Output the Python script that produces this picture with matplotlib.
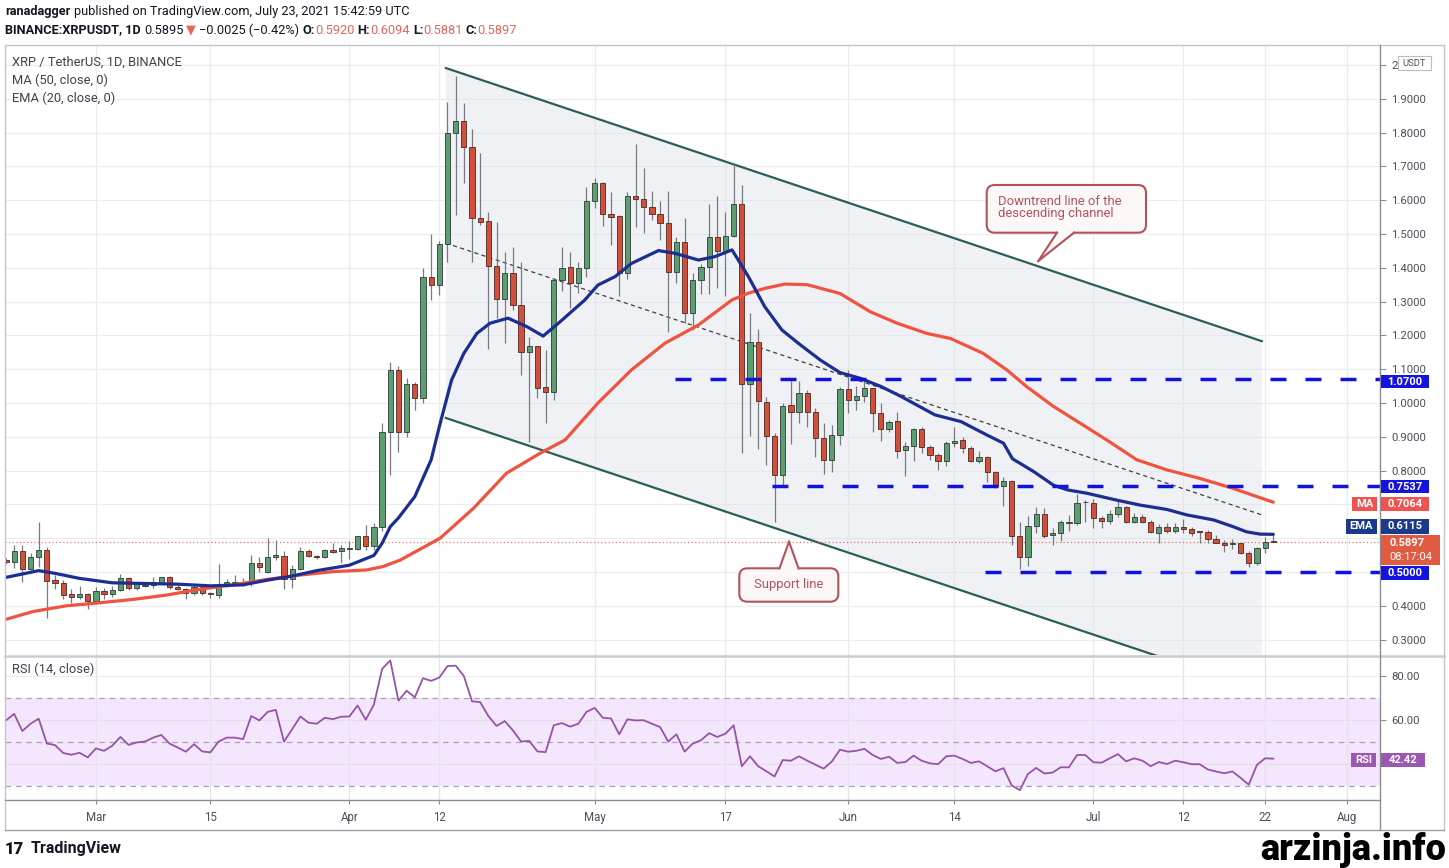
import matplotlib
matplotlib.use("Agg")
import matplotlib.pyplot as plt
from matplotlib.patches import Rectangle, FancyBboxPatch, Polygon
from matplotlib.lines import Line2D
from matplotlib.transforms import IdentityTransform
import datetime as dt
import numpy as np

plt.rcParams['font.family'] = ['Roboto', 'DejaVu Sans']
plt.rcParams['lines.scale_dashes'] = False

# ---------------- data ----------------
START = dt.date(2021, 2, 18)          # first candle

opens = [
0.534, 0.531, 0.563, 0.508, 0.543, 0.565, 0.476, 0.468, 0.434, 0.427,
0.434, 0.414, 0.445, 0.434, 0.447, 0.481, 0.452, 0.460, 0.461, 0.468,
0.484, 0.457, 0.449, 0.437, 0.455, 0.437, 0.432, 0.459, 0.467, 0.471,
0.466, 0.526, 0.501, 0.543, 0.547, 0.478, 0.508, 0.563, 0.547, 0.543,
0.565, 0.563, 0.568, 0.567, 0.606, 0.577, 0.634, 0.915, 1.098, 0.915,
1.056, 1.014, 1.372, 1.349, 1.470, 1.798, 1.835, 1.756, 1.546, 1.539,
1.405, 1.309, 1.384, 1.290, 1.152, 1.169, 1.048, 1.033, 1.364, 1.401,
1.354, 1.398, 1.599, 1.652, 1.559, 1.553, 1.386, 1.613, 1.603, 1.579,
1.559, 1.534, 1.389, 1.477, 1.267, 1.364, 1.401, 1.490, 1.451, 1.494,
1.589, 1.056, 1.179, 1.004, 0.903, 0.787, 0.994, 0.974, 1.031, 0.974,
0.896, 0.831, 0.905, 1.040, 1.009, 1.021, 1.043, 0.970, 0.922, 0.947,
0.861, 0.873, 0.922, 0.869, 0.846, 0.829, 0.881, 0.891, 0.866, 0.829,
0.839, 0.795, 0.754, 0.770, 0.607, 0.545, 0.636, 0.672, 0.610, 0.614,
0.644, 0.644, 0.706, 0.705, 0.659, 0.652, 0.672, 0.693, 0.649, 0.662,
0.649, 0.616, 0.634, 0.622, 0.634, 0.626, 0.620, 0.619, 0.597, 0.587,
0.582, 0.585, 0.555, 0.528, 0.570, 0.592]

highs = [
0.540, 0.580, 0.580, 0.555, 0.649, 0.575, 0.491, 0.476, 0.449, 0.459,
0.437, 0.455, 0.452, 0.459, 0.494, 0.484, 0.471, 0.471, 0.486, 0.486,
0.488, 0.462, 0.452, 0.462, 0.459, 0.441, 0.524, 0.478, 0.491, 0.481,
0.550, 0.545, 0.600, 0.595, 0.563, 0.521, 0.575, 0.567, 0.550, 0.567,
0.587, 0.580, 0.593, 0.607, 0.639, 0.644, 0.940, 1.120, 1.110, 1.074,
1.062, 1.400, 1.500, 1.480, 1.891, 1.967, 1.887, 1.810, 1.740, 1.566,
1.536, 1.448, 1.462, 1.418, 1.196, 1.170, 1.157, 1.370, 1.462, 1.448,
1.418, 1.640, 1.665, 1.655, 1.625, 1.556, 1.625, 1.766, 1.694, 1.628,
1.599, 1.628, 1.490, 1.546, 1.386, 1.410, 1.589, 1.613, 1.566, 1.709,
1.645, 1.265, 1.218, 1.019, 0.910, 0.999, 1.066, 1.066, 1.037, 0.984,
0.942, 0.935, 1.048, 1.098, 1.050, 1.070, 1.045, 0.999, 0.950, 0.974,
0.886, 0.925, 0.930, 0.876, 0.851, 0.889, 0.928, 0.900, 0.873, 0.859,
0.842, 0.800, 0.782, 0.772, 0.649, 0.666, 0.691, 0.688, 0.629, 0.654,
0.669, 0.731, 0.713, 0.715, 0.666, 0.684, 0.715, 0.696, 0.676, 0.672,
0.654, 0.642, 0.646, 0.644, 0.656, 0.634, 0.622, 0.624, 0.610, 0.595,
0.597, 0.587, 0.563, 0.573, 0.603, 0.6094]

lows = [
0.525, 0.511, 0.471, 0.505, 0.516, 0.363, 0.449, 0.421, 0.407, 0.419,
0.390, 0.407, 0.421, 0.425, 0.445, 0.447, 0.447, 0.455, 0.452, 0.466,
0.449, 0.447, 0.421, 0.433, 0.432, 0.422, 0.422, 0.455, 0.460, 0.459,
0.459, 0.501, 0.498, 0.535, 0.449, 0.452, 0.505, 0.545, 0.537, 0.540,
0.555, 0.526, 0.537, 0.565, 0.565, 0.565, 0.620, 0.787, 0.856, 0.900,
0.980, 1.000, 1.305, 1.320, 1.418, 1.556, 1.652, 1.418, 1.527, 1.159,
1.250, 1.177, 1.275, 1.083, 0.886, 1.014, 0.940, 1.009, 1.330, 1.280,
1.325, 1.374, 1.576, 1.524, 1.468, 1.317, 1.366, 1.522, 1.502, 1.541,
1.482, 1.211, 1.356, 1.238, 1.216, 1.323, 1.323, 1.339, 1.317, 1.490,
0.851, 0.901, 0.863, 0.817, 0.649, 0.758, 0.879, 0.942, 0.930, 0.841,
0.790, 0.797, 0.876, 0.971, 0.979, 1.004, 0.915, 0.889, 0.915, 0.836,
0.784, 0.829, 0.851, 0.831, 0.802, 0.814, 0.869, 0.851, 0.824, 0.822,
0.767, 0.748, 0.695, 0.580, 0.508, 0.518, 0.616, 0.600, 0.580, 0.593,
0.620, 0.640, 0.649, 0.629, 0.629, 0.642, 0.664, 0.646, 0.646, 0.646,
0.616, 0.587, 0.616, 0.616, 0.614, 0.607, 0.585, 0.587, 0.587, 0.560,
0.567, 0.553, 0.514, 0.521, 0.557, 0.5881]

closes = [
0.531, 0.563, 0.508, 0.543, 0.565, 0.474, 0.468, 0.433, 0.427, 0.434,
0.414, 0.445, 0.434, 0.447, 0.481, 0.452, 0.466, 0.462, 0.471, 0.484,
0.457, 0.449, 0.437, 0.455, 0.437, 0.434, 0.459, 0.471, 0.471, 0.466,
0.526, 0.516, 0.543, 0.550, 0.478, 0.508, 0.563, 0.547, 0.543, 0.565,
0.560, 0.570, 0.570, 0.606, 0.577, 0.634, 0.915, 1.098, 0.915, 1.056,
1.014, 1.372, 1.349, 1.470, 1.798, 1.835, 1.756, 1.546, 1.536, 1.405,
1.309, 1.384, 1.290, 1.152, 1.169, 1.043, 1.033, 1.364, 1.398, 1.354,
1.398, 1.599, 1.652, 1.559, 1.551, 1.386, 1.613, 1.603, 1.579, 1.559,
1.534, 1.389, 1.477, 1.267, 1.364, 1.401, 1.490, 1.451, 1.494, 1.589,
1.056, 1.179, 1.007, 0.903, 0.787, 0.991, 0.974, 1.031, 0.974, 0.896,
0.831, 0.905, 1.040, 1.009, 1.021, 1.043, 0.970, 0.922, 0.945, 0.859,
0.873, 0.922, 0.869, 0.846, 0.829, 0.881, 0.889, 0.866, 0.829, 0.839,
0.795, 0.754, 0.770, 0.607, 0.545, 0.636, 0.672, 0.607, 0.616, 0.649,
0.649, 0.705, 0.706, 0.659, 0.652, 0.672, 0.693, 0.649, 0.662, 0.649,
0.619, 0.634, 0.622, 0.634, 0.626, 0.616, 0.619, 0.597, 0.587, 0.580,
0.584, 0.555, 0.528, 0.570, 0.590, 0.5897]

rsi = [
59.8, 62.8, 55.0, 58.3, 60.6, 49.3, 48.6, 45.0, 44.2, 45.1,
43.0, 47.1, 46.0, 48.3, 52.3, 48.7, 49.8, 50.2, 52.0, 53.2,
49.3, 47.5, 45.6, 49.0, 45.7, 45.3, 50.2, 52.0, 52.0, 51.3,
61.8, 59.8, 63.7, 64.6, 50.2, 55.8, 61.6, 58.8, 58.3, 61.0,
60.4, 61.5, 61.6, 66.6, 60.1, 67.0, 83.2, 87.1, 68.8, 73.3,
70.3, 79.0, 77.8, 79.3, 84.5, 84.7, 80.0, 68.5, 68.1, 61.8,
57.3, 59.5, 55.3, 50.2, 50.5, 45.7, 45.4, 57.6, 58.6, 57.0,
58.3, 63.7, 65.5, 61.0, 60.7, 53.5, 60.3, 59.8, 59.9, 58.3,
56.8, 50.2, 53.5, 45.6, 49.3, 50.8, 54.0, 52.3, 53.8, 57.6,
39.0, 43.5, 39.0, 36.7, 34.3, 41.8, 41.5, 43.5, 41.5, 39.7,
37.9, 41.1, 46.5, 45.6, 46.0, 46.9, 44.1, 42.3, 43.3, 40.5,
40.9, 43.8, 41.5, 40.3, 39.9, 43.5, 43.8, 42.3, 40.5, 41.2,
39.0, 36.7, 38.1, 30.3, 28.1, 35.5, 38.2, 35.7, 36.1, 38.5,
38.5, 44.1, 44.1, 40.8, 40.6, 42.6, 44.5, 41.2, 42.6, 41.5,
39.0, 40.9, 40.0, 41.5, 40.8, 39.9, 39.9, 37.5, 36.6, 35.8,
36.6, 33.7, 30.6, 39.6, 42.6, 42.42]

# EMA(20) and MA(50) (day offset from START, value)
ema_day = [0, 4, 6, 9, 13, 17, 21, 25, 29, 32, 35, 38, 42, 45, 46, 47, 48, 50,
           52, 53, 54.5, 56, 57.6, 59.2, 61.4, 63.7, 65.7, 67.8, 70.8, 72.4,
           74.5, 76.5, 79.8, 81.8, 84.7, 86.7, 88.8, 90.8, 92.8, 94.9, 97,
           99.6, 102, 104.5, 107, 109.5, 113.6, 116.8, 120, 122, 123.1, 125.7,
           128.1, 129.8, 132.2, 135.4, 138.7, 142, 144.4, 147.7, 150.1, 151.7,
           153.4, 155]
ema_val = [0.484, 0.504, 0.496, 0.481, 0.468, 0.466, 0.464, 0.459, 0.462, 0.476,
           0.488, 0.504, 0.520, 0.549, 0.585, 0.634, 0.660, 0.723, 0.832, 0.930,
           1.068, 1.147, 1.206, 1.236, 1.251, 1.226, 1.198, 1.241, 1.305, 1.349,
           1.374, 1.413, 1.451, 1.443, 1.423, 1.433, 1.453, 1.374, 1.285, 1.216,
           1.175, 1.127, 1.090, 1.073, 1.049, 1.019, 0.965, 0.945, 0.905, 0.881,
           0.835, 0.797, 0.757, 0.743, 0.733, 0.715, 0.698, 0.685, 0.669, 0.654,
           0.634, 0.619, 0.612, 0.6115]
ma_day = [0, 3.3, 7.4, 11.5, 15.6, 19.7, 23.7, 27.8, 31.9, 36, 40, 44.1, 46.1,
          48.2, 53.1, 57.2, 61.2, 65.3, 68.4, 72.4, 76.5, 80.6, 84.7, 88.8,
          90.8, 92.8, 95.3, 98, 102, 105.7, 109, 112.6, 115.5, 119.5, 122.4,
          124.8, 128.1, 131.4, 134.6, 138.3, 142, 146, 150, 155]
ma_val = [0.360, 0.383, 0.400, 0.409, 0.419, 0.432, 0.449, 0.462, 0.478, 0.491,
          0.501, 0.506, 0.516, 0.535, 0.600, 0.689, 0.792, 0.851, 0.891, 1.000,
          1.098, 1.177, 1.231, 1.305, 1.325, 1.339, 1.352, 1.350, 1.324, 1.270,
          1.236, 1.206, 1.191, 1.147, 1.098, 1.049, 0.990, 0.940, 0.891, 0.832,
          0.802, 0.777, 0.748, 0.7064]

# descending channel (day offset, price) at its two ends
chan_day = [53.8, 153.6]
chan_upper = [1.991, 1.183]
chan_lower = [0.9556, 0.148]
chan_mid = [1.473, 0.669]

# horizontal levels and the day they start
levels = [1.0700, 0.7537, 0.5000]
level_from = [81.8, 93.7, 119.7]
last_price = 0.5897

tick_dates = ['2021-03-01', '2021-03-15', '2021-04-01', '2021-04-12', '2021-05-01',
              '2021-05-17', '2021-06-01', '2021-06-14', '2021-07-01', '2021-07-12',
              '2021-07-22', '2021-08-01']
tick_labels = ['Mar', '15', 'Apr', '12', 'May', '17', 'Jun', '14', 'Jul', '12', '22', 'Aug']

price_ticks = [0.3, 0.4, 0.5, 0.6, 0.7, 0.8, 0.9, 1.0, 1.1, 1.2, 1.3, 1.4, 1.5,
               1.6, 1.7, 1.8, 1.9, 2.0]
# tick labels hidden behind value boxes in the reference
hidden_ticks = [0.5, 0.6, 0.7]

# ---------------- figure ----------------
W, H = 1449, 868
fig = plt.figure(figsize=(W / 100, H / 100), dpi=100)
fig.patch.set_facecolor('white')
ID = IdentityTransform()

def fx(x): return x / W
def fy(y): return 1 - y / H

L, R = 5, 1380
MAIN_T, MAIN_B = 45, 655
RSI_T, RSI_B = 657, 800
XMIN, XMAX = -0.12, 168.05

days = np.arange(len(closes))
tick_days = [(dt.date.fromisoformat(s) - START).days for s in tick_dates]

GRID = '#ebebf0'
TXT = '#4b4f59'

ax = fig.add_axes([fx(L), fy(MAIN_B), fx(R) - fx(L), fy(MAIN_T) - fy(MAIN_B)])
rx = fig.add_axes([fx(L), fy(RSI_B), fx(R) - fx(L), fy(RSI_T) - fy(RSI_B)])

for a in (ax, rx):
    a.set_xlim(XMIN, XMAX)
    for s in a.spines.values():
        s.set_visible(False)
    a.set_facecolor('none')

# ---- main panel ----
ax.set_ylim(0.2544, 2.0592)
ax.set_xticks(tick_days)
ax.tick_params(axis='x', length=0, labelbottom=False)
ax.set_yticks(price_ticks)
labs = []
for v in price_ticks:
    if any(abs(v - h) < 1e-9 for h in hidden_ticks):
        labs.append('')
    elif abs(v - 2.0) < 1e-9:
        labs.append('2')
    else:
        labs.append('%.4f' % v)
ax.set_yticklabels(labs)
ax.yaxis.tick_right()
ax.tick_params(axis='y', length=4, width=0.8, color='#8a8d94', pad=4,
               labelsize=8.2, labelcolor=TXT)
ax.grid(True, color=GRID, lw=0.9, zorder=0)
ax.set_axisbelow(True)

# channel shading + lines
ax.fill([chan_day[0], chan_day[1], chan_day[1], chan_day[0]],
        [chan_upper[0], chan_upper[1], chan_lower[1], chan_lower[0]],
        color='#dfe2ea', alpha=0.45, lw=0, zorder=1)
ax.plot(chan_day, chan_upper, color='#2c5d5b', lw=1.6, zorder=2)
ax.plot(chan_day, chan_lower, color='#2c5d5b', lw=1.6, zorder=2)
ax.plot(chan_day, chan_mid, color='#404040', lw=0.9, dashes=(3.0, 2.4), zorder=2)

# last price dotted line
ax.axhline(last_price, color='#e2705c', lw=0.9, dashes=(0.8, 1.8), zorder=2)

# candles
bw = 0.64
for i in range(len(closes)):
    o, h, l, c = opens[i], highs[i], lows[i], closes[i]
    up = c >= o
    ax.plot([i, i], [l, h], color='#777a80', lw=0.9, zorder=3, solid_capstyle='butt')
    body = max(abs(c - o), 0.0025)
    ax.add_patch(Rectangle((i - bw / 2, min(o, c)), bw, body,
                           fc='#5c9e72' if up else '#d24f3b',
                           ec='#2e3a33' if up else '#4a2820', lw=0.6, zorder=3.5))

# moving averages
ax.plot(ma_day, ma_val, color='#f0533f', lw=2.3, zorder=4, solid_capstyle='round')
ax.plot(ema_day, ema_val, color='#1c2e90', lw=2.3, zorder=4.2, solid_capstyle='round')

# horizontal levels
for lv, st in zip(levels, level_from):
    ax.plot([st, XMAX], [lv, lv], color='#1212dd', lw=2.5, dashes=(11.5, 13.7),
            zorder=5, solid_capstyle='butt', dash_capstyle='butt')

# ---- RSI panel ----
rx.set_ylim(23.64, 88.64)
rx.axhspan(30, 70, color='#f4e6fc', lw=0, zorder=0)
for v in (40, 60, 80):
    rx.axhline(v, color='#e6dfeb' if v != 80 else GRID, lw=0.9, zorder=0.5)
for v in (30, 50, 70):
    rx.axhline(v, color='#aaa2ae', lw=0.9, dashes=(4, 3.5), zorder=1)
for td in tick_days:
    rx.axvline(td, color='#e4e2ea', lw=0.9, zorder=0.6)
rx.plot(days, rsi, color='#9455a8', lw=1.3, zorder=3)
rx.set_yticks([60, 80])
rx.set_yticklabels(['60.00', '80.00'])
rx.yaxis.tick_right()
rx.tick_params(axis='y', length=4, width=0.8, color='#8a8d94', pad=4,
               labelsize=8.2, labelcolor=TXT)
rx.set_xticks(tick_days)
rx.set_xticklabels(tick_labels)
rx.tick_params(axis='x', length=3, width=0.8, color='#8a8d94', pad=5,
               labelsize=8.3, labelcolor=TXT)

# ---------------- frame lines (pixel space) ----------------
def pline(x0, y0, x1, y1, color, lw=1.0, z=20):
    fig.add_artist(Line2D([x0, x1], [H - y0, H - y1], transform=ID, color=color,
                          lw=lw, zorder=z))

FR = '#c3c6ce'
pline(5, 45, 1444, 45, FR)
pline(5, 45, 5, 830, FR)
pline(1444, 45, 1444, 830, FR)
pline(5, 830, 1444, 830, '#9a9ea8')
pline(5, 655.5, 1444, 655.5, '#c9ccd3', lw=1.8)
pline(5, 800, 1380, 800, '#8a8d94', lw=1.0)
pline(1380, 45, 1380, 830, '#8a8d94', lw=1.0)

# ---------------- text helpers ----------------
renderer = fig.canvas.get_renderer()

def ptext(x, y, s, **kw):
    kw.setdefault('va', 'center')
    kw.setdefault('ha', 'left')
    return fig.text(x, H - y, s, transform=ID, **kw)

def seq(x, y, pieces, fs, gap):
    cur = x
    for s, color, weight, sp in pieces:
        t = ptext(cur, y, s, color=color, fontsize=fs, fontweight=weight)
        bb = t.get_window_extent(renderer)
        cur += bb.width + (gap if sp else 0)

DARK = '#131722'
RED = '#e6655b'
seq(5, 12, [('ranadagger', DARK, 'bold', True),
            ('published on TradingView.com, July 23, 2021 15:42:59 UTC', DARK, 'normal', False)],
    9.2, 3.2)
seq(5, 30, [('BINANCE:XRPUSDT, 1D', DARK, 'bold', True),
            ('0.5895', DARK, 'normal', True),
            ('\u25BC', RED, 'normal', True),
            ('\u22120.0025 (\u22120.42%)', DARK, 'normal', True),
            ('O:', DARK, 'bold', False), ('0.5920', RED, 'normal', True),
            ('H:', DARK, 'bold', False), ('0.6094', RED, 'normal', True),
            ('L:', DARK, 'bold', False), ('0.5881', RED, 'normal', True),
            ('C:', DARK, 'bold', False), ('0.5897', RED, 'normal', False)],
    9.2, 3.2)

LEG = '#3e424b'
ptext(12, 62, 'XRP / TetherUS, 1D, BINANCE', fontsize=9.3, color=LEG, zorder=30)
ptext(12, 80, 'MA (50, close, 0)', fontsize=9.3, color=LEG, zorder=30)
ptext(12, 98, 'EMA (20, close, 0)', fontsize=9.3, color=LEG, zorder=30)
ptext(12, 669, 'RSI (14, close)', fontsize=9.3, color=LEG, zorder=30)

# ---------------- right-axis value boxes ----------------
def pbox(x0, y0, x1, y1, color, ec='none', z=25):
    fig.add_artist(Rectangle((x0, H - y1), x1 - x0, y1 - y0, transform=ID,
                             fc=color, ec=ec, lw=0.8, zorder=z))

BLUE = '#1414e0'
for lv, (y0, y1) in zip(levels, [(375, 388), (480, 493), (566, 579.5)]):
    pbox(1381, y0, 1429, y1, BLUE)
    ptext(1405, (y0 + y1) / 2 + 0.5, '%.4f' % lv, fontsize=8.0, color='white',
          fontweight='bold', ha='center', zorder=26)

pbox(1352, 497, 1377, 511, '#ef5350')
ptext(1364.5, 504, 'MA', fontsize=8.0, color='white', fontweight='bold', ha='center', zorder=26)
pbox(1381, 497, 1429, 511, '#ef5350')
ptext(1405, 504, '%.4f' % ma_val[-1], fontsize=8.0, color='white', fontweight='bold',
      ha='center', zorder=26)

pbox(1346, 519, 1377, 533.5, '#1b3a8c')
ptext(1361.5, 526.3, 'EMA', fontsize=8.0, color='white', fontweight='bold', ha='center', zorder=26)
pbox(1381, 519, 1429, 533.5, '#1b3a8c')
ptext(1405, 526.3, '%.4f' % ema_val[-1], fontsize=8.0, color='white', fontweight='bold',
      ha='center', zorder=26)

pbox(1381, 534.5, 1440, 564.5, '#e15b43')
ptext(1389, 543, '%.4f' % last_price, fontsize=8.0, color='white', fontweight='bold', zorder=26)
ptext(1389, 557, '08:17:04', fontsize=8.0, color='white', zorder=26)

pbox(1398, 56, 1431, 70, 'white', ec='#b9bcc4')
ptext(1414.5, 63, 'USDT', fontsize=6.8, color='#555', ha='center', zorder=26)

pbox(1351, 753, 1376, 767, '#9c57b2')
ptext(1363.5, 760, 'RSI', fontsize=8.0, color='white', fontweight='bold', ha='center', zorder=26)
pbox(1381, 753, 1425, 767, '#9c57b2')
ptext(1403, 760, '%.2f' % rsi[-1], fontsize=8.0, color='white', fontweight='bold',
      ha='center', zorder=26)

# ---------------- callouts ----------------
CE = '#b4525b'
CF = '#fcf8f8'

def callout(x0, y0, x1, y1, base, tip, lines, ha='left', tx=None):
    fig.add_artist(FancyBboxPatch((x0, H - y1), x1 - x0, y1 - y0,
                                  boxstyle='round,pad=0,rounding_size=8',
                                  transform=ID, fc=CF, ec=CE, lw=1.5, zorder=27))
    (bx0, by), (bx1, _) = base
    inner = by - 2.2 if tip[1] > by else by + 2.2
    fig.add_artist(Polygon([(bx0, H - by), (bx0 + 1, H - inner), (bx1 - 1, H - inner),
                            (bx1, H - by), (tip[0], H - tip[1])], closed=True,
                           transform=ID, fc=CF, ec='none', zorder=28))
    pline(bx0, by, tip[0], tip[1], CE, lw=1.5, z=29)
    pline(tip[0], tip[1], bx1, by, CE, lw=1.5, z=29)
    for (yy, s) in lines:
        ptext(tx, yy, s, fontsize=9.4, color=CE, ha=ha, zorder=30)

callout(986.7, 185, 1146, 232.7, ((1057, 232.7), (1074, 232.7)), (1038.3, 261),
        [(201.5, 'Downtrend line of the'), (214, 'descending channel')],
        ha='left', tx=998)
callout(739.3, 568.3, 838.3, 601.7, ((779.5, 568.3), (798.5, 568.3)), (789, 541.7),
        [(584.5, 'Support line')], ha='center', tx=788.8)

# ---------------- footer ----------------
ptext(5, 849, '17', fontsize=12, color=DARK, fontweight='black')
ptext(31, 849, 'TradingView', fontsize=11.5, color=DARK, fontweight='bold')
ptext(1446, 850, 'arzinja.info', fontsize=26, color='black', fontweight='black', ha='right')

fig.savefig('out.png', dpi=100, facecolor='white')
